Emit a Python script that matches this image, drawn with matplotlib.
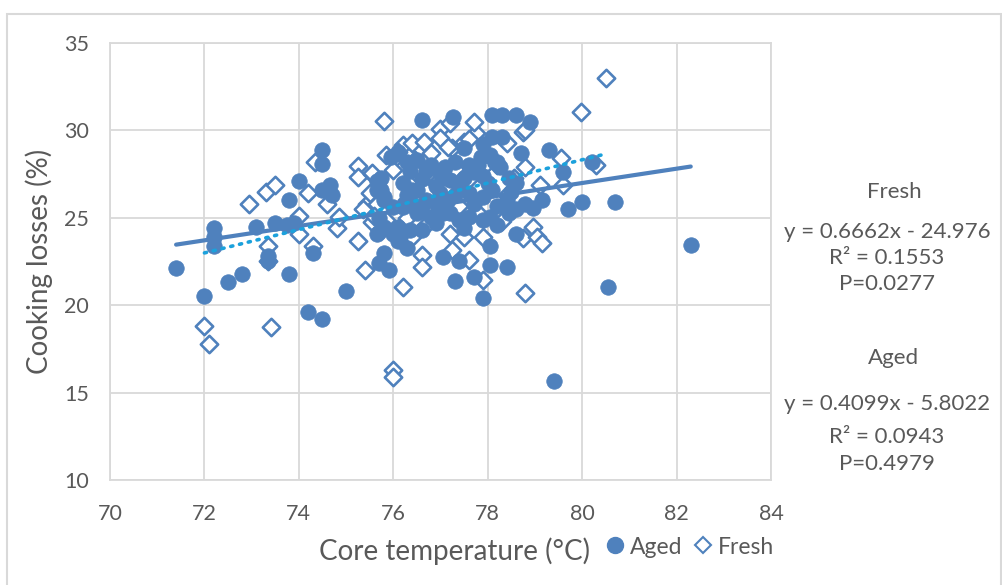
import matplotlib
matplotlib.use("Agg")
import matplotlib.pyplot as plt
from matplotlib.lines import Line2D
from matplotlib.patches import Rectangle
import numpy as np

# ---------------- data ----------------
aged_x = [71.4, 72.0, 72.2, 72.2, 72.2, 72.5, 72.8, 73.1, 73.35, 73.35, 73.5, 73.8, 73.8, 73.75, 73.9,
          74.0, 74.2, 74.3, 74.5, 74.5, 74.5, 74.5, 74.65, 74.7, 75.0,
          75.65, 75.75, 75.75, 75.8, 75.7, 75.7, 75.8, 75.7, 75.9, 76.1, 75.95, 76.1, 76.0, 75.8, 75.65,
          76.0, 76.2, 75.8, 75.65, 76.15,
          76.6, 76.35, 76.7, 77.0, 77.2, 76.5, 76.7, 76.9, 77.15, 77.05, 76.8, 76.5, 76.35, 76.1, 76.6,
          76.3, 77.05, 76.4, 76.6, 76.9, 76.3, 76.5, 76.8, 77.1, 76.4, 76.6, 76.9, 76.3, 76.2, 77.0,
          77.27, 78.1, 78.3, 78.6, 78.9, 78.1, 78.3, 77.85, 78.05, 78.25, 78.45, 77.4, 77.6, 77.9, 78.1,
          78.4, 78.45, 77.2, 77.4, 77.6, 77.9, 78.05, 78.6, 78.05, 78.4, 78.05, 77.9, 77.7, 77.3, 77.4,
          77.5, 77.7, 77.9, 78.0, 77.6, 77.3, 77.5, 77.9, 77.8, 78.2, 77.3, 77.7, 78.2, 78.5, 78.6,
          77.5, 78.2, 78.7,
          79.3, 79.6, 80.2, 78.95, 79.15, 79.7, 80.0, 80.7, 82.3, 80.55, 79.4, 78.8, 78.6]
aged_y = [22.1, 20.5, 24.4, 23.9, 23.4, 21.3, 21.8, 24.5, 22.8, 22.5, 24.7, 26.0, 21.8, 24.6, 24.7,
          27.1, 19.6, 23.0, 19.2, 28.9, 28.1, 26.6, 26.9, 26.3, 20.8,
          27.1, 27.25, 26.6, 26.2, 25.0, 24.2, 23.0, 22.4, 22.0, 28.75, 28.5, 23.7, 24.1, 26.0, 26.6,
          25.6, 25.6, 24.5, 24.1, 23.9,
          30.6, 27.7, 27.7, 27.55, 27.15, 26.6, 26.0, 25.85, 26.0, 25.3, 25.05, 25.3, 24.3, 24.5, 24.3,
          23.3, 22.75, 26.6, 27.2, 26.8, 28.2, 28.3, 28.0, 27.9, 25.8, 25.6, 24.7, 26.3, 27.0, 26.4,
          30.77, 30.9, 30.9, 30.9, 30.5, 29.6, 29.6, 28.5, 28.6, 27.9, 27.3, 26.75, 26.4, 26.2, 26.6,
          26.0, 25.3, 25.3, 24.9, 25.05, 24.9, 25.05, 24.1, 23.4, 22.2, 22.3, 20.4, 21.6, 21.4, 22.5,
          27.3, 27.6, 27.4, 27.0, 28.0, 28.2, 29.0, 29.2, 28.0, 28.2, 26.3, 25.8, 25.7, 26.5, 27.0,
          24.4, 24.6, 28.7,
          28.9, 27.6, 28.2, 25.55, 26.0, 25.5, 25.9, 25.9, 23.45, 21.05, 15.65, 25.8, 25.5]

fresh_x = [72.0, 72.1, 73.4, 76.0, 76.0, 72.95, 73.3, 73.5, 73.35, 73.35, 74.0, 74.0, 74.2, 74.3, 74.35,
           74.6, 74.8, 74.85, 75.25, 75.25, 75.25, 75.4, 75.45, 75.55, 75.8, 76.05, 75.55, 75.8, 75.85,
           75.5, 75.35,
           77.0, 77.75, 78.75, 76.2, 76.4, 76.65, 77.0, 77.25, 77.15, 77.5, 77.6, 75.85, 76.1, 76.0,
           76.8, 76.45, 75.55, 75.65, 75.6, 76.2, 76.6, 76.6, 77.2, 77.5, 77.25, 77.6, 77.9, 78.8, 77.9,
           78.75, 78.95, 79.05, 79.15, 79.1, 79.6, 79.55, 78.55, 78.8, 79.98, 80.5, 80.3, 78.8, 76.3,
           76.5, 76.9, 77.3, 77.6, 77.9, 78.2, 78.4, 76.7, 77.0, 77.4, 77.8, 78.3, 76.4, 76.3, 77.7,
           77.2, 78.4]
fresh_y = [18.8, 17.8, 18.75, 16.3, 15.9, 25.8, 26.5, 26.85, 23.4, 22.5, 25.1, 24.1, 26.4, 23.4, 28.2,
           25.8, 24.4, 25.05, 27.95, 27.35, 23.7, 22.0, 25.8, 27.5, 30.55, 28.5, 24.75, 25.6, 24.9,
           26.4, 25.5,
           30.1, 29.85, 29.9, 29.15, 29.3, 29.35, 29.55, 29.0, 29.05, 29.35, 29.5, 28.6, 28.75, 27.75,
           28.7, 28.3, 27.55, 25.8, 25.1, 21.05, 22.9, 22.2, 24.1, 23.9, 23.15, 22.6, 21.45, 20.7, 23.9,
           23.85, 24.45, 23.9, 23.55, 26.85, 26.85, 28.4, 27.3, 27.9, 31.05, 33.0, 28.0, 30.0, 26.0,
           27.5, 27.0, 27.8, 27.2, 27.9, 28.0, 26.3, 24.6, 25.5, 25.7, 25.3, 24.8, 23.9, 25.0, 30.5,
           30.4, 29.3]

# trendline coefficients (as printed on the chart)
fresh_fit = (0.6662, -24.976)
aged_fit = (0.4099, -5.8022)

x_ticks = [70, 72, 74, 76, 78, 80, 82, 84]
y_ticks = [10, 15, 20, 25, 30, 35]

# ---------------- style ----------------
W, H = 1003, 585
plt.rcParams['font.family'] = ['Lato', 'DejaVu Sans']
BLUE = '#4F81BD'
CYAN = '#1BA1DC'
GRID = '#D9D9D9'
TXT = '#595959'

fig = plt.figure(figsize=(W / 100, H / 100), dpi=100)
fig.patch.set_facecolor('white')

# outer chart border
fig.patches.append(Rectangle((7 / W, -0.05), (1001 - 7) / W, (585 - 14) / H + 0.05,
                             transform=fig.transFigure, fill=False,
                             edgecolor=GRID, linewidth=1.5))

ax = fig.add_axes([110 / W, (H - 480) / H, (771 - 110) / W, (480 - 43) / H])
ax.set_xlim(70, 84)
ax.set_ylim(10, 35)
ax.set_xticks(x_ticks)
ax.set_yticks(y_ticks)
ax.grid(True, color=GRID, linewidth=1.3)
ax.set_axisbelow(True)
for s in ax.spines.values():
    s.set_color(GRID)
    s.set_linewidth(1.3)
ax.tick_params(length=0, labelsize=15.5, labelcolor=TXT)
ax.tick_params(axis='x', pad=17)
ax.tick_params(axis='y', pad=15)

ax.scatter(fresh_x, fresh_y, marker='D', s=78, facecolor='white', edgecolor=BLUE,
           linewidth=1.9, zorder=2)
ax.scatter(aged_x, aged_y, marker='o', s=125, facecolor=BLUE, edgecolor=BLUE,
           linewidth=0.5, zorder=3)

# trendlines spanning each series' range
fx = np.array([min(fresh_x), max(fresh_x)])
ax.plot(fx, fresh_fit[0] * fx + fresh_fit[1], color=CYAN, linewidth=2.6,
        linestyle=(0, (0.6, 1.9)), dash_capstyle='round', zorder=5)
axx = np.array([min(aged_x), max(aged_x)])
ax.plot(axx, aged_fit[0] * axx + aged_fit[1], color=BLUE, linewidth=3.0,
        solid_capstyle='round', zorder=4)

# axis titles
fig.text(455 / W, 1 - 551 / H, 'Core temperature (°C)', ha='center', va='center',
         fontsize=20, color=TXT)
fig.text(39 / W, 1 - 261 / H, 'Cooking losses (%)', ha='center', va='center',
         rotation=90, fontsize=20, color=TXT)

# legend
handles = [Line2D([], [], marker='o', linestyle='none', markersize=11.5,
                  markerfacecolor=BLUE, markeredgecolor=BLUE),
           Line2D([], [], marker='D', linestyle='none', markersize=8,
                  markerfacecolor='white', markeredgecolor=BLUE, markeredgewidth=1.5)]
fig.legend(handles, ['Aged', 'Fresh'], loc='center', bbox_to_anchor=(690 / W, 1 - 547 / H),
           ncol=2, frameon=False, fontsize=16.5, handlelength=0.8, handletextpad=0.25,
           columnspacing=0.5, labelcolor=TXT)

# regression annotations
def put(x, y, s):
    fig.text(x / W, 1 - y / H, s, ha='center', va='center', fontsize=16, color=TXT)

put(894, 192, 'Fresh')
put(887, 232, 'y = 0.6662x - 24.976')
put(887, 258, 'R² = 0.1553')
put(887, 284, 'P=0.0277')
put(894, 358, 'Aged')
put(887, 404, 'y = 0.4099x - 5.8022')
put(887, 437, 'R² = 0.0943')
put(887, 464, 'P=0.4979')

fig.savefig('out.png', dpi=100, facecolor='white')
